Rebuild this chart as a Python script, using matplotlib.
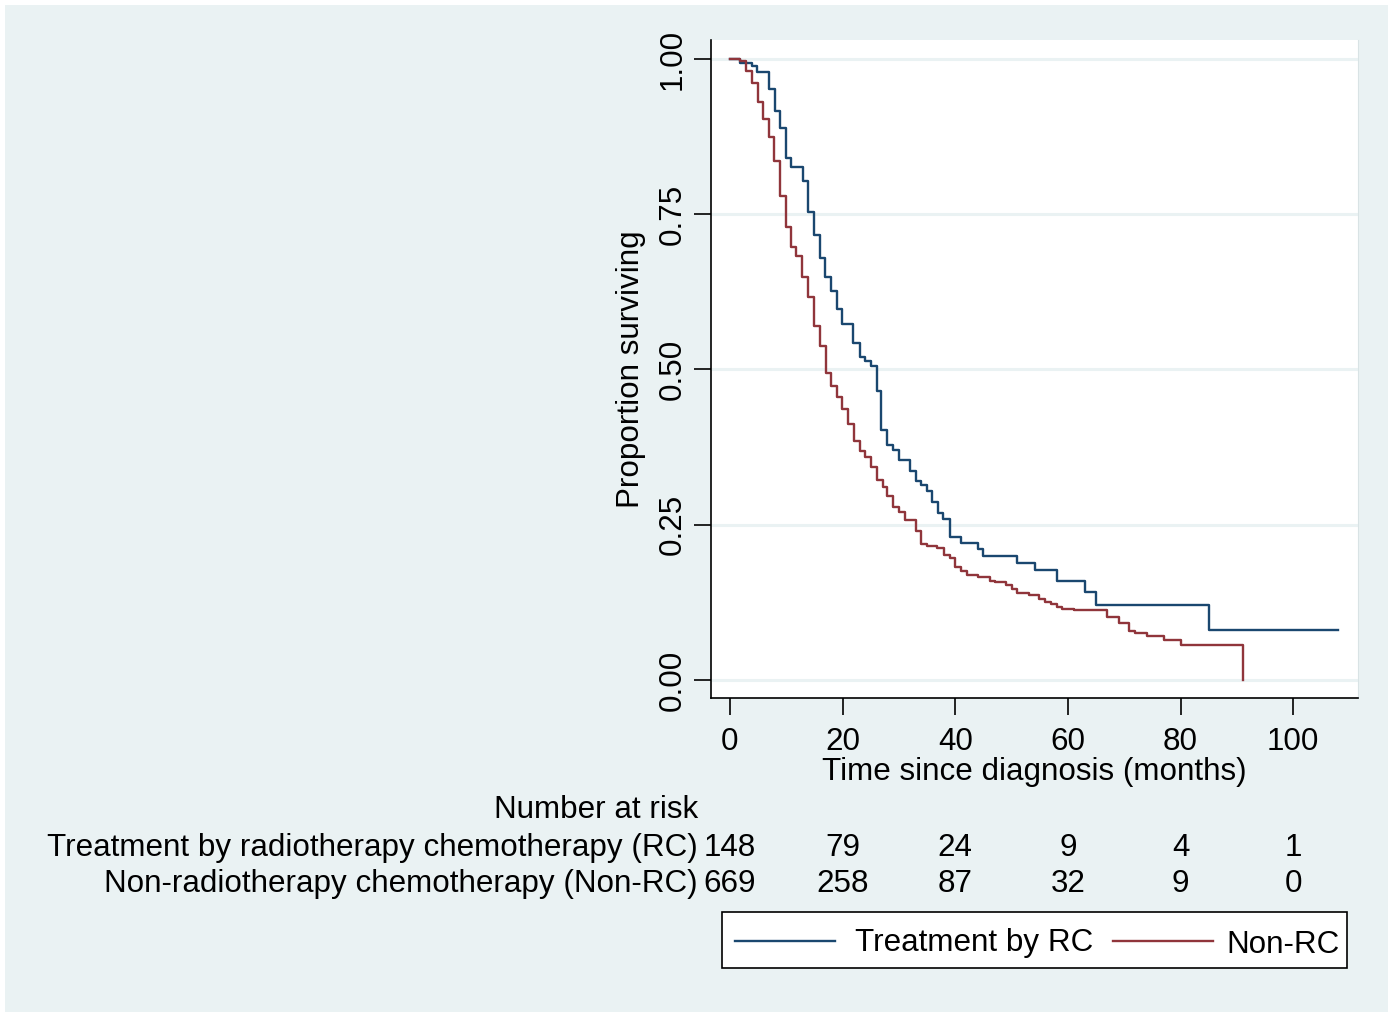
import matplotlib.pyplot as plt
from matplotlib.patches import Rectangle
from matplotlib.lines import Line2D
import matplotlib.transforms as mtransforms

plt.rcParams['font.family'] = ['Liberation Sans', 'DejaVu Sans']

# Kaplan-Meier steps (time in months, survival after the drop)
rc_time = [0, 1.8, 3.9, 4.8, 6.9, 8.0, 8.9, 9.9, 10.8, 13.0, 13.9, 15.0, 15.9, 16.9,
           17.9, 19.0, 19.9, 21.9, 23.0, 23.9, 25.0, 26.1, 26.9, 27.9, 29.0, 30.0,
           32.0, 33.0, 33.9, 34.9, 35.9, 36.9, 37.9, 39.0, 41.0, 44.0, 45.0, 51.0,
           54.1, 58.0, 63.1, 65.0, 85.1, 107.9]
rc_surv = [1.0, 0.993, 0.988, 0.979, 0.951, 0.917, 0.889, 0.840, 0.826, 0.804, 0.753,
           0.716, 0.680, 0.649, 0.627, 0.597, 0.574, 0.543, 0.520, 0.513, 0.505, 0.466,
           0.403, 0.378, 0.370, 0.354, 0.337, 0.320, 0.314, 0.304, 0.287, 0.269, 0.260,
           0.231, 0.221, 0.211, 0.200, 0.189, 0.177, 0.159, 0.142, 0.121, 0.081, 0.081]

nonrc_time = [0, 1.8, 2.8, 3.9, 4.9, 5.9, 6.9, 7.8, 8.9, 9.9, 10.8, 11.8, 12.8, 13.9,
              15.0, 16.0, 17.0, 17.9, 19.0, 19.9, 21.0, 22.0, 23.0, 24.0, 25.0, 26.1,
              27.1, 27.9, 29.0, 30.0, 31.1, 33.0, 33.9, 34.9, 36.8, 38.0, 39.0, 40.0,
              41.0, 42.0, 44.0, 46.1, 47.1, 49.0, 50.0, 51.0, 53.0, 54.9, 55.9, 57.0,
              58.0, 59.0, 61.0, 67.0, 69.0, 70.9, 71.9, 74.0, 77.1, 80.1, 91.1]
nonrc_surv = [1.0, 0.996, 0.981, 0.962, 0.931, 0.904, 0.874, 0.836, 0.779, 0.729, 0.697,
              0.682, 0.649, 0.617, 0.570, 0.538, 0.494, 0.474, 0.455, 0.436, 0.412, 0.385,
              0.369, 0.359, 0.343, 0.322, 0.311, 0.297, 0.278, 0.270, 0.258, 0.240, 0.219,
              0.215, 0.212, 0.201, 0.196, 0.182, 0.175, 0.169, 0.166, 0.160, 0.157, 0.153,
              0.147, 0.140, 0.137, 0.130, 0.125, 0.122, 0.118, 0.115, 0.112, 0.102, 0.091,
              0.079, 0.075, 0.071, 0.064, 0.057, 0.0]

risk_times = [0, 20, 40, 60, 80, 100]
rc_at_risk = [148, 79, 24, 9, 4, 1]
nonrc_at_risk = [669, 258, 87, 32, 9, 0]
risk_labels = ['Treatment by radiotherapy chemotherapy (RC)',
               'Non-radiotherapy chemotherapy (Non-RC)']
legend_labels = ['Treatment by RC', 'Non-RC']

blue = '#1a476f'
red = '#90353b'
bg = '#eaf2f3'
fs = 22.6

fig = plt.figure(figsize=(13.92, 10.14), dpi=100, facecolor='white')
W, H = 1392, 1014
fig.patches.append(Rectangle((5 / W, 2 / H), 1383 / W, 1007 / H, transform=fig.transFigure,
                             facecolor=bg, edgecolor='none', zorder=-10))

ax = fig.add_axes([711 / W, 1 - 698 / H, 647 / W, 658 / H])
ax.set_facecolor('white')
ax.step(rc_time, rc_surv, where='post', color=blue, lw=1.7, zorder=3)
ax.step(nonrc_time, nonrc_surv, where='post', color=red, lw=1.7, zorder=3)

ax.set_xlim(-3.37, 111.5)
ax.set_ylim(-0.029, 1.0306)
ax.set_yticks([0, 0.25, 0.5, 0.75, 1.0])
ax.set_yticklabels(['0.00', '0.25', '0.50', '0.75', '1.00'], rotation=90, va='center')
ax.set_xticks(risk_times)
ax.grid(axis='y', color=bg, lw=2.2, zorder=0)
ax.set_axisbelow(True)
ax.spines['top'].set_visible(False)
ax.spines['right'].set_color('#d9e3e5')
for s in ['left', 'bottom']:
    ax.spines[s].set_color('black')
    ax.spines[s].set_linewidth(1.2)
ax.tick_params(axis='both', direction='out', length=12, width=1.2, labelsize=fs)
ax.tick_params(axis='x', pad=9)
ax.tick_params(axis='y', pad=5)
ax.set_xlabel('Time since diagnosis (months)', fontsize=fs, labelpad=0)
ax.set_ylabel('Proportion surviving', fontsize=fs, labelpad=8)

# number at risk table
tr = mtransforms.blended_transform_factory(ax.transData, fig.transFigure)
fig.text(698 / W, 1 - 810 / H, 'Number at risk', ha='right', va='center', fontsize=fs)
for row, (lab, vals) in enumerate(zip(risk_labels, [rc_at_risk, nonrc_at_risk])):
    yy = 1 - (848 + 36 * row) / H
    fig.text(698 / W, yy, lab, ha='right', va='center', fontsize=fs)
    for t, v in zip(risk_times, vals):
        fig.text(t, yy, str(v), ha='center', va='center', fontsize=fs, transform=tr)

# legend box, laid out like the Stata one
fig.patches.append(Rectangle((722 / W, 1 - 968 / H), 625 / W, 56 / H, transform=fig.transFigure,
                             facecolor='white', edgecolor='black', lw=1.2, zorder=5))
for (x0, x1, xt, dy), col, lab in zip([(735, 835, 855, 0), (1113, 1213, 1226, 2)],
                                      [blue, red], legend_labels):
    fig.lines.append(Line2D([x0 / W, x1 / W], [1 - 941 / H] * 2, transform=fig.transFigure,
                            color=col, lw=1.7, zorder=6))
    fig.text(xt / W, 1 - (943 + dy) / H, lab, ha='left', va='center', fontsize=fs, zorder=6)

fig.savefig('out.png', dpi=100, facecolor='white')
